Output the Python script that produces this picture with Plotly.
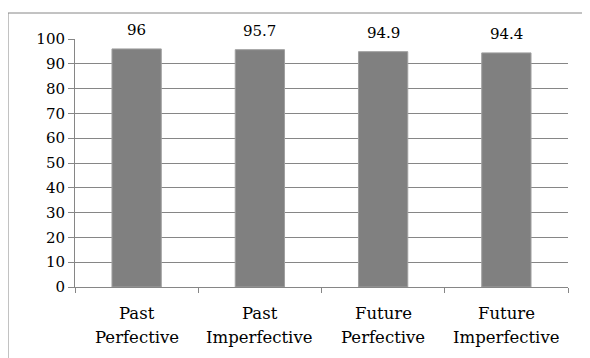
import plotly.graph_objects as go

categories = ["Past Perfective", "Past Imperfective", "Future Perfective", "Future Imperfective"]
values = [96, 95.7, 94.9, 94.4]
value_labels = ["96", "95.7", "94.9", "94.4"]

# page has an 8px body margin, so the figure is offset by 8px
OFF = 8
W, H = 590 - OFF, 358 - OFF
L, T = 75 - OFF, 39 - OFF
pw, ph = 493, 248
R, B = W - L - pw, H - T - ph

def px_x(x):
    return (x - OFF - L) / pw

def px_y(y):
    return (T + ph - (y - OFF)) / ph

font_family = "DejaVu Serif"
grid = "#868686"
num_size = 15
cat_size = 16.5

fig = go.Figure(go.Bar(
    x=categories, y=values,
    marker=dict(color="#808080", line=dict(color="#a0a0a0", width=1)),
))

annotations = []
for c, v, lab in zip(categories, values, value_labels):
    annotations.append(dict(x=c, y=v, xref="x", yref="y", text=lab, showarrow=False,
                            yanchor="bottom", yshift=8,
                            font=dict(family=font_family, size=num_size, color="#000000")))
    first, second = c.split(" ", 1)
    for line, shift in ((first, -26), (second, -50)):
        annotations.append(dict(x=c, y=0, xref="x", yref="paper", text=line, showarrow=False,
                                yanchor="middle", yshift=shift,
                                font=dict(family=font_family, size=cat_size, color="#000000")))

fig.update_layout(
    width=W, height=H,
    margin=dict(l=L, r=R, t=T, b=B),
    paper_bgcolor="white", plot_bgcolor="white",
    bargap=0.6, showlegend=False,
    font=dict(family=font_family, size=num_size, color="#000000"),
    xaxis=dict(showgrid=False, showline=True, linecolor=grid, linewidth=1,
               ticks="outside", tickson="boundaries", ticklen=5, tickcolor=grid,
               showticklabels=False),
    yaxis=dict(range=[0, 100], dtick=10, showgrid=True, gridcolor=grid, gridwidth=1,
               showline=True, linecolor=grid, linewidth=1, zeroline=False,
               ticks="outside", ticklen=6, tickcolor=grid,
               tickfont=dict(family=font_family, size=num_size)),
    annotations=annotations,
    shapes=[dict(type="rect", xref="paper", yref="paper",
                 x0=px_x(8), x1=px_x(600), y0=px_y(370), y1=px_y(13),
                 line=dict(color=grid, width=1), fillcolor="rgba(0,0,0,0)", layer="below")],
)

fig.write_html("out.html")
